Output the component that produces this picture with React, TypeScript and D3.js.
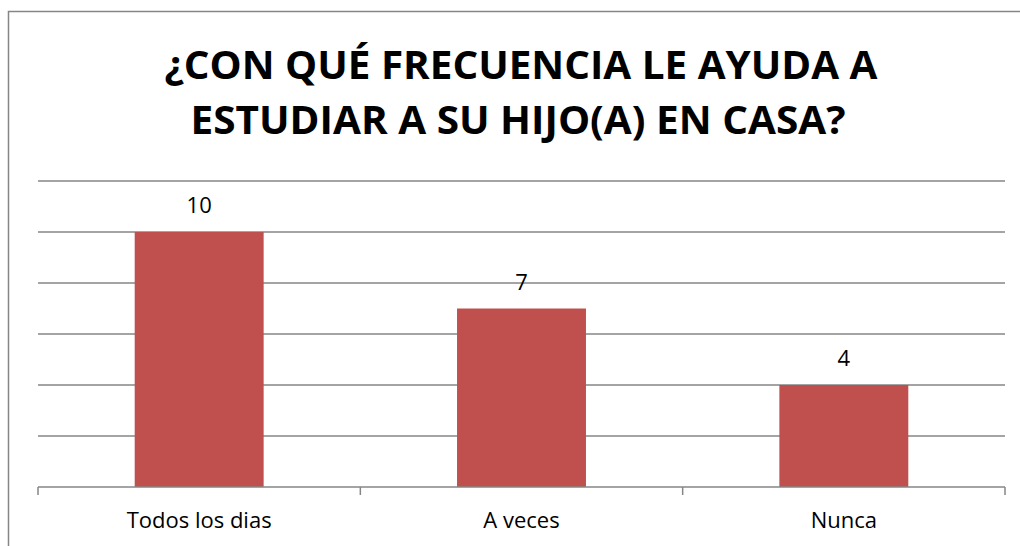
import React from 'react';
import * as d3 from 'd3';

const categories = ['Todos los dias', 'A veces', 'Nunca'];
const values = [10, 7, 4];
const gridTicks = [2, 4, 6, 8, 10, 12];
const titleLines = ['¿CON QUÉ FRECUENCIA LE AYUDA A', 'ESTUDIAR A SU HIJO(A) EN CASA?'];

const W = 1020;
const H = 546;
const BAR = '#C0504D';
const GRID = '#868686';

const App = () => {
  const margin = { left: 38, right: 15, top: 181, bottom: 59 };

  const x = d3.scaleBand<string>()
    .domain(categories)
    .range([margin.left, W - margin.right])
    .paddingInner(0.6)
    .paddingOuter(0.3);

  const y = d3.scaleLinear()
    .domain([0, 12])
    .range([H - margin.bottom, margin.top]);

  const step = x.step();
  const x0 = x.range()[0];
  const boundaries = d3.range(categories.length + 1).map(i => x0 + i * step);

  return (
    <svg
      width={W}
      height={H}
      style={{ position: 'absolute', left: 0, top: 0, background: '#fff' }}
      fontFamily="'Open Sans', sans-serif"
    >
      {/* chart area border */}
      <rect x={8.5} y={11.5} width={W + 20} height={H + 20} fill="none" stroke={GRID} strokeWidth={1.5} />

      {/* title */}
      <text x={521} y={79} textAnchor="middle" fontSize={40} fontWeight="bold"
        textLength={713} lengthAdjust="spacingAndGlyphs" fill="#000">{titleLines[0]}</text>
      <text x={518} y={134} textAnchor="middle" fontSize={40} fontWeight="bold"
        textLength={655} lengthAdjust="spacingAndGlyphs" fill="#000">{titleLines[1]}</text>

      {/* gridlines */}
      {gridTicks.map(t => (
        <line key={t} x1={x0} x2={W - margin.right} y1={y(t)} y2={y(t)} stroke={GRID} strokeWidth={1.5} />
      ))}

      {/* bars */}
      {categories.map((c, i) => (
        <rect key={c} x={x(c)} y={y(values[i])} width={x.bandwidth()} height={y(0) - y(values[i])} fill={BAR} />
      ))}

      {/* value labels */}
      {categories.map((c, i) => (
        <text key={c} x={(x(c) ?? 0) + x.bandwidth() / 2} y={y(values[i]) - 19}
          textAnchor="middle" fontSize={22} fill="#000">{values[i]}</text>
      ))}

      {/* x axis */}
      <line x1={x0} x2={W - margin.right} y1={y(0)} y2={y(0)} stroke={GRID} strokeWidth={1.5} />
      {boundaries.map((bx, i) => (
        <line key={i} x1={bx} x2={bx} y1={y(0)} y2={y(0) + 8} stroke={GRID} strokeWidth={1.5} />
      ))}
      {categories.map(c => (
        <text key={c} x={(x(c) ?? 0) + x.bandwidth() / 2} y={y(0) + 41}
          textAnchor="middle" fontSize={22} fill="#000">{c}</text>
      ))}
    </svg>
  );
};

export default App;
